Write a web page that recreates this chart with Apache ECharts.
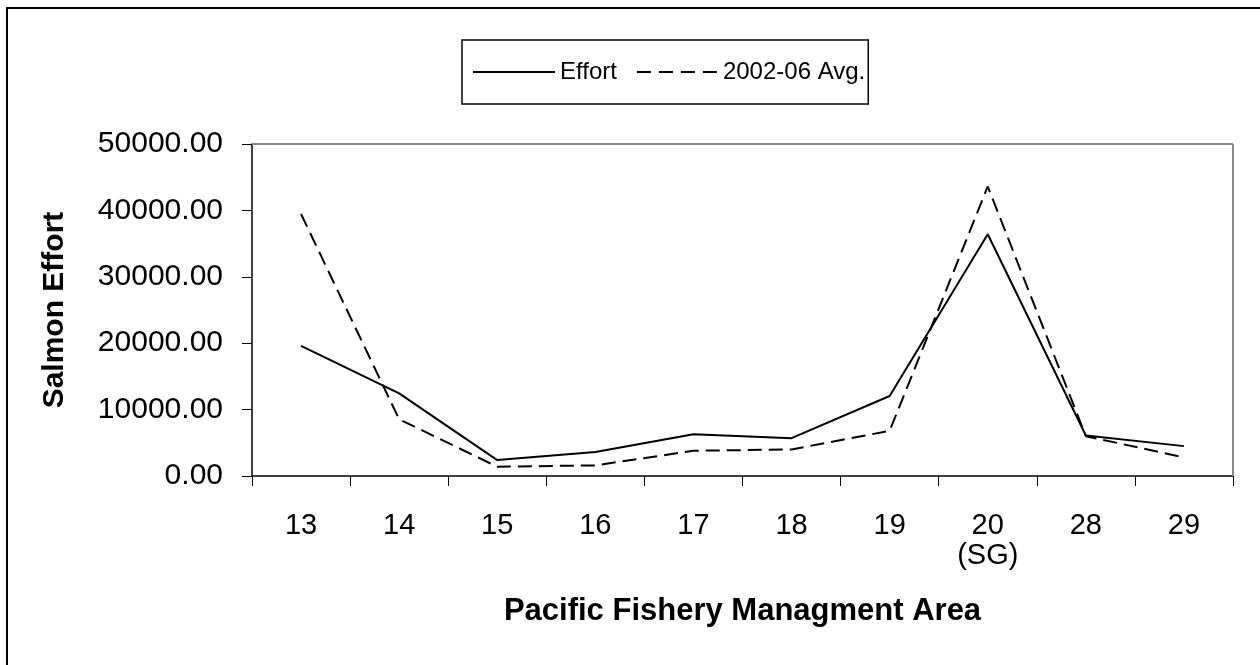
<!DOCTYPE html>
<html>
<head>
<meta charset="utf-8">
<script src="https://cdn.jsdelivr.net/npm/echarts@6/dist/echarts.min.js"></script>
<style>
html,body{margin:0;padding:0;background:#fff;}
#chart{width:1260px;height:665px;}
</style>
</head>
<body>
<div id="chart"></div>
<script>
const categories = ['13','14','15','16','17','18','19','20\n(SG)','28','29'];
const effort = [19600, 12450, 2400, 3600, 6300, 5700, 12050, 36400, 6100, 4500];
const avg0206 = [39450, 8550, 1400, 1600, 3800, 4000, 6800, 43600, 6000, 2800];
const yTicks = [0, 10000, 20000, 30000, 40000, 50000];
const seriesNames = ['Effort', '2002-06 Avg.'];

const FONT = '"Liberation Sans", Arial, sans-serif';
const chart = echarts.init(document.getElementById('chart'), null, {renderer:'canvas'});
chart.setOption({
  animation: false,
  backgroundColor: '#fff',
  textStyle: {fontFamily: FONT, color: '#000'},
  graphic: [
    {type:'rect', shape:{x:7, y:8, width:1400, height:800}, style:{fill:'none', stroke:'#000', lineWidth:2}, z:-1},
    {type:'line', shape:{x1:252, y1:144, x2:1233, y2:144}, style:{stroke:'#888', lineWidth:2}, z:1},
    {type:'line', shape:{x1:1233, y1:144, x2:1233, y2:476}, style:{stroke:'#888', lineWidth:2}, z:1}
  ],
  legend: {
    left: 462, top: 40,
    width: 420,
    padding: [20, 3, 20, 11],
    borderColor: '#000', borderWidth: 1.5,
    itemWidth: 82, itemHeight: 2, itemGap: 20,
    textStyle: {fontFamily: FONT, fontSize: 24, color:'#000'},
    data: [
      {name: seriesNames[0], icon: 'path://M0,0h84v2h-84z', itemStyle:{color:'#000'}},
      {name: seriesNames[1], icon: 'path://M0,0h14v2h-14zM22,0h14v2h-14zM44,0h14v2h-14zM66,0h14v2h-14z', itemStyle:{color:'#000'}}
    ]
  },
  grid: {left: 252, right: 27, top: 144, bottom: 189, containLabel: false},
  xAxis: {
    type: 'category',
    data: categories,
    boundaryGap: true,
    axisLine: {lineStyle: {color:'#000', width: 1.5}},
    axisTick: {show: true, length: 10, lineStyle:{color:'#000', width:1}},
    axisLabel: {fontFamily: FONT, fontSize: 29, color:'#000', margin: 35, lineHeight: 30, interval: 0},
    name: 'Pacific Fishery Managment Area',
    nameLocation: 'middle',
    nameGap: 120,
    nameTextStyle: {fontFamily: FONT, fontSize: 31, fontWeight: 'bold', color:'#000'}
  },
  yAxis: {
    type: 'value',
    min: yTicks[0], max: yTicks[yTicks.length-1], interval: 10000,
    splitLine: {show: false},
    axisLine: {show: true, lineStyle: {color:'#000', width: 1.5}},
    axisTick: {show: true, length: 10, lineStyle:{color:'#000', width:1}},
    axisLabel: {fontFamily: FONT, fontSize: 30, color:'#000', margin: 29,
      formatter: v => v.toFixed(2)},
    name: 'Salmon Effort',
    nameLocation: 'middle',
    nameRotate: 90,
    nameGap: 182,
    nameTextStyle: {fontFamily: FONT, fontSize: 30, fontWeight: 'bold', color:'#000'}
  },
  series: [
    {name: seriesNames[0], type:'line', data: effort, symbol:'none',
     lineStyle:{color:'#000', width:2, type:'solid'}, itemStyle:{color:'#000'}},
    {name: seriesNames[1], type:'line', data: avg0206, symbol:'none',
     lineStyle:{color:'#000', width:2, type:[14,7]}, itemStyle:{color:'#000'}}
  ]
});
</script>
</body>
</html>
